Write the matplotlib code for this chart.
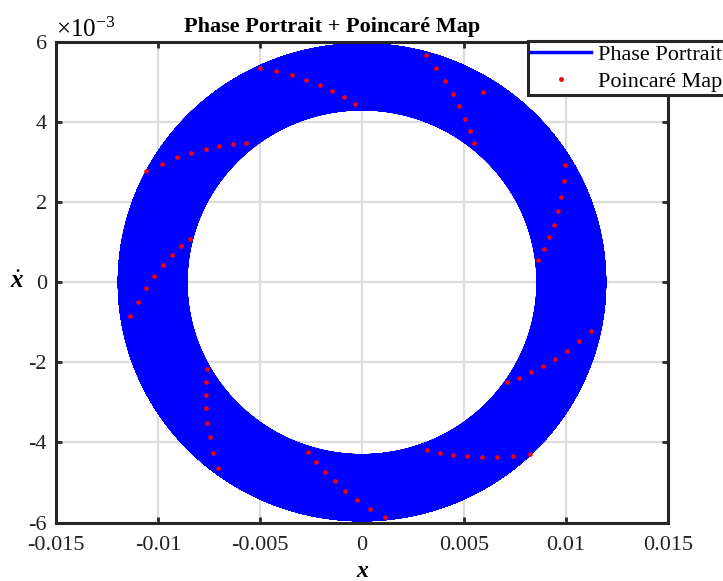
import numpy as np
import matplotlib
matplotlib.use("Agg")
import matplotlib.pyplot as plt
from matplotlib.ticker import FixedLocator

plt.rcParams['font.family'] = ['Liberation Serif', 'DejaVu Serif']
plt.rcParams['mathtext.fontset'] = 'custom'
plt.rcParams['mathtext.rm'] = 'Liberation Serif'
plt.rcParams['mathtext.it'] = 'Liberation Serif:italic:bold'

# ---- Phase portrait (quasi-periodic orbit filling an annulus) ----
# amplitudes of the two modes for x and x-dot
x_mode_amp = [0.01026, 0.00166]        # x: outer ~0.01195, inner ~0.0086
xdot_mode_amp = [5.13e-3, 0.815e-3]    # xdot: outer ~5.96e-3, inner ~4.3e-3
freq_ratio = 7.618034                  # incommensurate second frequency
n_turns = 520

# ---- Poincare map points (x, x-dot) ----
poincare_x = [
    -0.00500, -0.004216, -0.003446, -0.00273, -0.002074, -0.001456, -0.000868, -0.000343,
    0.003137, 0.003627, 0.004083, 0.004461, 0.00477, 0.005064, 0.005294, 0.005475, 0.005946,
    0.009966, 0.009887, 0.009755, 0.009593, 0.009397, 0.009167, 0.008907, 0.008642,
    -0.005701, -0.006338, -0.006995, -0.007662, -0.008382, -0.009069, -0.009819, -0.010574,
    -0.008431, -0.008873, -0.009328, -0.00977, -0.010196, -0.010603, -0.010995, -0.011373,
    -0.007613, -0.007647, -0.007662, -0.007647, -0.007583, -0.007466, -0.007289, -0.007074,
    -0.002647, -0.002255, -0.001828, -0.001338, -0.000819, -0.00023, 0.000407, 0.001113,
    0.003201, 0.003809, 0.004461, 0.005147, 0.005882, 0.006618, 0.007402, 0.008235,
    0.007123, 0.007696, 0.00827, 0.008858, 0.009446, 0.01005, 0.010637, 0.011225,
]
poincare_xdot = [
    5.355e-3, 5.28e-3, 5.18e-3, 5.06e-3, 4.93e-3, 4.78e-3, 4.63e-3, 4.46e-3,
    5.67e-3, 5.345e-3, 5.03e-3, 4.71e-3, 4.395e-3, 4.08e-3, 3.78e-3, 3.48e-3, 4.76e-3,
    2.92e-3, 2.52e-3, 2.14e-3, 1.77e-3, 1.44e-3, 1.12e-3, 0.83e-3, 0.555e-3,
    3.48e-3, 3.46e-3, 3.405e-3, 3.34e-3, 3.24e-3, 3.12e-3, 2.96e-3, 2.78e-3,
    1.09e-3, 0.895e-3, 0.67e-3, 0.42e-3, 0.145e-3, -0.155e-3, -0.49e-3, -0.84e-3,
    -2.17e-3, -2.49e-3, -2.81e-3, -3.145e-3, -3.505e-3, -3.87e-3, -4.255e-3, -4.645e-3,
    -4.245e-3, -4.495e-3, -4.73e-3, -4.97e-3, -5.21e-3, -5.445e-3, -5.66e-3, -5.86e-3,
    -4.18e-3, -4.255e-3, -4.31e-3, -4.345e-3, -4.37e-3, -4.36e-3, -4.33e-3, -4.28e-3,
    -2.48e-3, -2.38e-3, -2.245e-3, -2.09e-3, -1.91e-3, -1.705e-3, -1.47e-3, -1.205e-3,
]

x_ticks = [-0.015, -0.01, -0.005, 0, 0.005, 0.01, 0.015]
x_ticklabels = ['-0.015', '-0.01', '-0.005', '0', '0.005', '0.01', '0.015']
y_ticks = [-6e-3, -4e-3, -2e-3, 0, 2e-3, 4e-3, 6e-3]
y_ticklabels = ['-6', '-4', '-2', '0', '2', '4', '6']

fig = plt.figure(figsize=(7.23, 5.81), dpi=100)
ax = fig.add_axes([56 / 723, 1 - 522.5 / 581, 612 / 723, 480.5 / 581])

t = np.linspace(0, 2 * np.pi * n_turns, n_turns * 720)
xs = x_mode_amp[0] * np.cos(t) + x_mode_amp[1] * np.cos(freq_ratio * t)
vs = -xdot_mode_amp[0] * np.sin(t) - xdot_mode_amp[1] * np.sin(freq_ratio * t)
ax.plot(xs, vs, color='#0000ff', lw=1.4, label='Phase Portrait', zorder=2)
ax.plot(poincare_x, poincare_xdot, linestyle='none', marker='o', markersize=3.3,
        markeredgewidth=0, color='#ff0000', label='Poincaré Map', zorder=3)

ax.set_xlim(-0.015, 0.015)
ax.set_ylim(-6e-3, 6e-3)
ax.xaxis.set_major_locator(FixedLocator(x_ticks))
ax.set_xticklabels(x_ticklabels)
ax.yaxis.set_major_locator(FixedLocator(y_ticks))
ax.set_yticklabels(y_ticklabels)

ax.set_axisbelow(True)
ax.grid(True, color='#dcdcdc', lw=1.6)
for s in ax.spines.values():
    s.set_linewidth(2.2)
    s.set_color('#262626')
ax.tick_params(direction='in', length=4.5, width=2, colors='#262626',
               top=True, right=True, labelsize=16, labelcolor='#222222')
ax.tick_params(axis='x', pad=10)
ax.tick_params(axis='y', pad=6.5)

ax.set_title('Phase Portrait + Poincaré Map', fontsize=16, fontweight='bold',
             x=0.451, pad=7)
ax.set_xlabel('x', fontsize=17, fontstyle='italic', fontweight='bold', labelpad=4)
fig.text(17 / 723, 1 - 282 / 581, r'$\dot{x}$', fontsize=18, ha='center', va='center')
fig.text(56 / 723, 1 - 37 / 581, r'$\times 10^{-3}$', fontsize=18, ha='left',
         va='baseline')

leg = ax.legend(loc='upper left', bbox_to_anchor=(528 / 723, 1 - 41 / 581),
                bbox_transform=fig.transFigure, fontsize=16, frameon=True,
                fancybox=False, framealpha=1, edgecolor='#262626',
                handlelength=2.7, handletextpad=0.3, borderpad=0.15,
                labelspacing=0.3, borderaxespad=0)
leg.get_frame().set_linewidth(2.2)
leg.legend_handles[0].set_linewidth(2.5)
leg.legend_handles[1].set_markersize(3.5)

fig.savefig('out.png', dpi=100)
